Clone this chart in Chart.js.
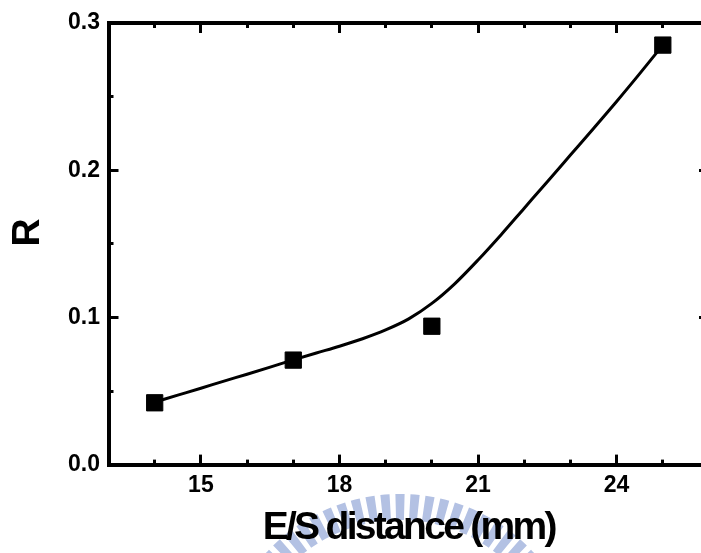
<!DOCTYPE html>
<html>
<head>
<meta charset="utf-8">
<script src="https://cdn.jsdelivr.net/npm/chart.js@4/dist/chart.umd.min.js"></script>
<style>
  html, body { margin: 0; padding: 0; background: #fff; overflow: hidden; }
  #wrap { position: relative; width: 701px; height: 553px; overflow: hidden; }
  #c { display: block; }
</style>
</head>
<body>
<div id="wrap"><canvas id="c" width="712" height="553"></canvas></div>
<script>
// ---- data ----
const distance = [14, 17, 20, 25];                 // E/S distance (mm)
const ratioR   = [0.042, 0.071, 0.094, 0.285];     // measured R
const fitDistance = [14, 14.5, 15, 15.5, 16, 16.5, 17, 17.5, 18, 18.5, 19, 19.5, 20, 20.5, 21, 21.5, 22, 22.5, 23, 23.5, 24, 24.5, 25];
const fitR        = [0.0425, 0.0472, 0.0519, 0.0567, 0.0614, 0.0662, 0.0711, 0.0758, 0.0804, 0.0855, 0.0915, 0.0990, 0.1095, 0.1230, 0.1390, 0.1562, 0.1742, 0.1922, 0.2103, 0.2284, 0.2467, 0.2656, 0.2850];
const xMajorTicks = [15, 18, 21, 24];
const yMajorTicks = [0.0, 0.1, 0.2, 0.3];
const xRange = [13, 26];
const yRange = [0, 0.3];
const xMinorStep = 1;
const yMinorStep = 0.05;
const xTitle = 'E/S distance (mm)';
const yTitle = 'R';

// ---- font detection for the condensed axis titles ----
function hasFont(name) {
  const c = document.createElement('canvas').getContext('2d');
  c.font = 'bold 40px monospace';
  const a = c.measureText(xTitle).width;
  c.font = 'bold 40px "' + name + '", monospace';
  const b = c.measureText(xTitle).width;
  return Math.abs(a - b) > 0.5;
}
const narrow = hasFont('Liberation Sans Narrow');
const titleFont = narrow
  ? { family: '"Liberation Sans Narrow", "Liberation Sans", Arial, sans-serif', size: 40, weight: 'bold' }
  : { family: '"Liberation Sans", Arial, sans-serif', size: 39, weight: 'bold' };
const titleSpacing = narrow ? '0px' : '-2.7px';
const tickFont = { family: '"Liberation Sans", Arial, sans-serif', size: 23, weight: 'bold' };

const origDrawTitle = Chart.Scale.prototype.drawTitle;
Chart.Scale.prototype.drawTitle = function () {
  const ctx = this.ctx;
  ctx.save();
  ctx.letterSpacing = titleSpacing;
  if (this.id === 'y') ctx.translate(0, -10);
  origDrawTitle.apply(this, arguments);
  ctx.restore();
};

function range(a, b, step) {
  const out = [];
  const n = Math.round((b - a) / step);
  for (let i = 0; i <= n; i++) out.push(+(a + i * step).toFixed(6));
  return out;
}

// faint watermark logo behind the chart
const watermark = {
  id: 'watermark',
  beforeDraw(chart) {
    const ctx = chart.ctx;
    ctx.save();
    ctx.fillStyle = '#fff';
    ctx.fillRect(0, 0, chart.width, chart.height);
    const cx = 400, cy = 676, r1 = 156, r2 = 182;
    ctx.fillStyle = '#b3c1e3';
    const step = 4.75 * Math.PI / 180, w = 2.9 * Math.PI / 180;
    for (let a = -Math.PI / 2 - 16 * step; a <= -Math.PI / 2 + 16 * step + 1e-6; a += step) {
      ctx.beginPath();
      ctx.arc(cx, cy, r2, a - w / 2, a + w / 2);
      ctx.arc(cx, cy, r1, a + w / 2, a - w / 2, true);
      ctx.closePath();
      ctx.fill();
    }
    ctx.restore();
  }
};

function noPad(s) { s.paddingLeft = 0; s.paddingRight = 0; s.paddingTop = 0; s.paddingBottom = 0; }
function majorAxis(pos, extra) {
  return Object.assign({
    type: 'linear', position: pos, weight: 1,
    grid: { drawOnChartArea: false, drawTicks: true, tickLength: -10, tickWidth: 3, tickColor: '#000' },
    border: { display: true, width: 4, color: '#000' },
    ticks: { display: false }
  }, extra);
}
function minorAxis(pos, extra) {
  return Object.assign({
    type: 'linear', position: pos, weight: 0,
    grid: { drawOnChartArea: false, drawTicks: true, tickLength: -5, tickWidth: 3, tickColor: '#000' },
    border: { display: false },
    ticks: { display: false }
  }, extra);
}
const zeroH = s => { s.height = 0; noPad(s); };
const zeroW = s => { s.width = 0; noPad(s); };
const xMajor = s => { s.ticks = xMajorTicks.map(v => ({ value: v })); };
const xMinor = s => { s.ticks = range(xRange[0], xRange[1], xMinorStep).map(v => ({ value: v })); };
const yMajor = s => { s.ticks = yMajorTicks.map(v => ({ value: v })); };
const yMinor = s => { s.ticks = range(yRange[0], yRange[1], yMinorStep).map(v => ({ value: v })); };

Chart.defaults.color = '#000';

new Chart(document.getElementById('c'), {
  type: 'scatter',
  data: {
    datasets: [
      {
        label: 'fit',
        data: fitDistance.map((x, i) => ({ x: x, y: fitR[i] })),
        showLine: true,
        borderColor: '#000',
        borderWidth: 3,
        pointRadius: 0,
        cubicInterpolationMode: 'monotone',
        xAxisID: 'x', yAxisID: 'y',
        order: 2
      },
      {
        label: 'R',
        data: distance.map((x, i) => ({ x: x, y: ratioR[i] })),
        showLine: false,
        pointStyle: 'rect',
        pointRadius: 11.5,
        backgroundColor: '#000',
        borderColor: '#000',
        borderWidth: 1,
        xAxisID: 'x', yAxisID: 'y',
        order: 1
      }
    ]
  },
  options: {
    responsive: false,
    maintainAspectRatio: false,
    animation: false,
    devicePixelRatio: 1,
    layout: { autoPadding: false, padding: { left: 0, right: 3, top: 23, bottom: 0 } },
    plugins: { legend: { display: false }, tooltip: { enabled: false } },
    scales: {
      x: majorAxis('bottom', {
        min: xRange[0], max: xRange[1],
        afterBuildTicks: xMajor,
        afterFit: s => { s.height = 88.4; noPad(s); },
        ticks: { display: true, font: tickFont, padding: 17, autoSkip: false, maxRotation: 0, callback: v => String(v) },
        title: { display: true, text: xTitle, font: titleFont, padding: { top: 0, bottom: 1.5 } }
      }),
      xMinor: minorAxis('bottom', { min: xRange[0], max: xRange[1], afterBuildTicks: xMinor, afterFit: zeroH }),
      xTop: majorAxis('top', { min: xRange[0], max: xRange[1], afterBuildTicks: xMajor, afterFit: zeroH }),
      xTopMinor: minorAxis('top', { min: xRange[0], max: xRange[1], afterBuildTicks: xMinor, afterFit: zeroH }),
      y: majorAxis('left', {
        min: yRange[0], max: yRange[1],
        afterBuildTicks: yMajor,
        afterFit: s => { s.width = 108.5; noPad(s); },
        ticks: { display: true, font: tickFont, padding: 18.5, autoSkip: false, callback: v => Number(v).toFixed(1) },
        title: { display: true, text: yTitle, font: titleFont, padding: { top: 5, bottom: 0 } }
      }),
      yMinor: minorAxis('left', { min: yRange[0], max: yRange[1], afterBuildTicks: yMinor, afterFit: zeroW }),
      yRight: majorAxis('right', { min: yRange[0], max: yRange[1], afterBuildTicks: yMajor, afterFit: zeroW }),
      yRightMinor: minorAxis('right', { min: yRange[0], max: yRange[1], afterBuildTicks: yMinor, afterFit: zeroW })
    }
  },
  plugins: [watermark]
});
</script>
</body>
</html>
